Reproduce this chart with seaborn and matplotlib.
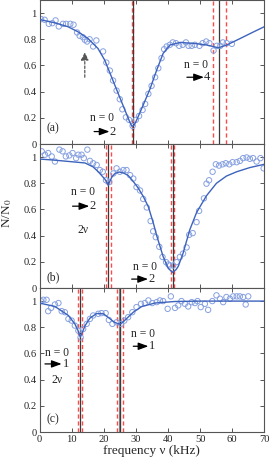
import numpy as np
import pandas as pd
import matplotlib
matplotlib.use("Agg")
import matplotlib.pyplot as plt
import seaborn as sns

# ---------------- data ----------------
# panel (a): measured points
a_freq = [0.5, 1.6, 2.9, 4.0, 5.0, 6.0, 7.3, 8.3, 9.6, 10.6, 11.7, 12.5, 13.5, 14.1, 14.8, 15.6,
          16.7, 17.7, 19.8, 20.8, 21.9, 22.9, 24.0, 25.0, 25.8, 26.9, 27.9, 29.0, 30.0, 31.0,
          32.1, 32.9, 33.9, 34.9, 36.0, 37.0, 38.0, 38.8, 39.6, 40.6, 41.5, 42.5, 43.5, 44.6,
          45.6, 46.4, 47.4, 48.4, 49.8, 50.8, 51.9, 52.9, 54.2, 55.2, 56.3, 57.1, 58.3, 59.9]
a_val = [0.954, 0.949, 0.918, 0.923, 0.944, 0.898, 0.918, 0.918, 0.918, 0.911, 0.852, 0.827,
         0.816, 0.796, 0.783, 0.800, 0.745, 0.791, 0.707, 0.622, 0.561, 0.485, 0.408, 0.342,
         0.265, 0.204, 0.184, 0.138, 0.184, 0.214, 0.260, 0.306, 0.383, 0.444, 0.510, 0.579,
         0.656, 0.724, 0.745, 0.758, 0.776, 0.770, 0.750, 0.758, 0.776, 0.750, 0.750, 0.758,
         0.750, 0.770, 0.783, 0.770, 0.714, 0.750, 0.750, 0.776, 0.770, 0.765]
# panel (a): fitted curve
a_fit_freq = [0, 4.7, 8.85, 12.0, 15.1, 18.2, 20.3, 22.4, 24.5, 26.6, 28.1, 28.8, 29.5, 30.2,
              32.3, 34.4, 36.5, 38.5, 40.6, 43.75, 47.9, 52.1, 55.7, 58.3, 62.5, 66.7, 70]
a_fit_val = [0.951, 0.926, 0.896, 0.857, 0.806, 0.730, 0.641, 0.514, 0.386, 0.259, 0.168,
             0.135, 0.145, 0.180, 0.298, 0.420, 0.565, 0.692, 0.756, 0.776, 0.769, 0.756,
             0.735, 0.756, 0.806, 0.857, 0.896]

# panel (b)
b_freq = [0.7, 1.7, 2.7, 3.8, 4.8, 6.2, 7.2, 8.2, 9.3, 10.3, 11.4, 12.1, 13.1, 13.8, 14.9, 15.7,
          16.7, 17.8, 18.8, 19.7, 20.7, 21.7, 23.0, 24.0, 25.0, 26.1, 27.1, 28.2, 29.2, 30.2,
          31.3, 32.3, 33.4, 34.6, 35.4, 36.2, 37.3, 38.3, 39.4, 40.1, 40.6, 41.6, 42.7, 43.7,
          44.7, 45.8, 46.6, 47.7, 48.9, 49.7, 51.2, 52.0, 52.8, 53.9, 54.9, 55.9, 57.0, 58.0,
          59.1, 60.1, 61.4, 62.4, 63.4, 64.5, 65.5, 66.5, 67.6, 68.8, 69.8]
b_val = [1.044, 1.018, 1.031, 1.005, 0.966, 1.057, 1.044, 1.005, 1.013, 1.031, 0.992, 1.018,
         1.018, 0.992, 1.057, 0.971, 0.953, 0.940, 0.901, 0.888, 0.823, 0.810, 0.875, 0.914,
         0.888, 0.901, 0.901, 0.862, 0.836, 0.771, 0.745, 0.680, 0.615, 0.511, 0.433, 0.388,
         0.315, 0.237, 0.198, 0.180, 0.172, 0.172, 0.198, 0.237, 0.263, 0.310, 0.406, 0.419,
         0.503, 0.589, 0.685, 0.797, 0.823, 0.888, 0.945, 0.935, 0.945, 0.953, 0.945, 0.961,
         0.961, 0.971, 0.992, 0.997, 0.987, 0.992, 0.966, 0.992, 0.914]
b_fit_freq = [0, 4, 8.5, 14.2, 16.7, 18.3, 19.5, 20.4, 21.0, 21.4, 21.9, 22.6, 23.5, 24.8, 26.2,
              27.6, 29.0, 30.7, 32.3, 33.9, 35.4, 36.5, 38.5, 40.1, 41.4, 42.5, 43.2, 44.7,
              46.8, 48.9, 52.0, 55.1, 58.2, 61.4, 65.5, 70]
b_fit_val = [0.985, 0.978, 0.968, 0.955, 0.925, 0.888, 0.855, 0.830, 0.805, 0.785, 0.815, 0.850,
             0.875, 0.886, 0.878, 0.860, 0.820, 0.765, 0.700, 0.620, 0.500, 0.400, 0.240, 0.150,
             0.120, 0.140, 0.165, 0.265, 0.445, 0.576, 0.705, 0.800, 0.855, 0.888, 0.920, 0.945]

# panel (c)
c_freq = [0.4, 1.2, 2.2, 2.7, 3.6, 4.8, 5.9, 6.9, 7.9, 9.0, 10.0, 11.0, 12.1, 12.8, 13.6, 14.7,
          15.7, 16.7, 18.3, 19.3, 20.6, 21.6, 22.7, 24.0, 25.4, 26.4, 27.6, 28.9, 30.2, 31.6,
          32.8, 33.9, 35.1, 36.5, 37.5, 38.5, 39.9, 40.9, 42.2, 43.2, 44.2, 45.3, 46.3, 47.4,
          48.4, 49.2, 50.2, 51.5, 52.5, 53.8, 55.1, 56.2, 57.2, 58.2, 59.3, 60.3, 61.4, 62.4,
          63.4, 64.2, 65.0]
c_val = [1.0, 1.01, 1.01, 0.923, 0.948, 0.974, 0.985, 0.923, 0.915, 0.864, 0.851, 0.813, 0.774,
         0.723, 0.787, 0.826, 0.864, 0.890, 0.903, 0.908, 0.908, 0.856, 0.826, 0.838, 0.826,
         0.851, 0.877, 0.915, 0.954, 0.979, 0.985, 1.005, 0.985, 0.992, 1.005, 1.0, 0.941,
         1.036, 0.948, 0.967, 1.0, 0.979, 0.959, 0.992, 0.985, 1.0, 0.954, 0.979, 0.933, 1.0,
         1.044, 1.018, 0.992, 1.031, 1.018, 1.036, 1.036, 1.036, 1.031, 0.974, 1.036]
c_fit_freq = [0, 4.8, 9.0, 11.0, 12.0, 12.7, 13.4, 14.2, 15.7, 17.8, 19.9, 21.9, 23.2, 24.4,
              25.2, 26.0, 27.1, 29.2, 31.8, 35.9, 42.2, 50.5, 70]
c_fit_val = [0.985, 0.959, 0.890, 0.826, 0.775, 0.725, 0.765, 0.813, 0.870, 0.905, 0.903, 0.866,
             0.840, 0.828, 0.825, 0.840, 0.866, 0.915, 0.958, 0.985, 0.997, 1.0, 1.0]

# vertical reference lines: (solid centre, dashed lower, dashed upper)
a_lines = [(29.0, 28.9, 29.1), (55.9, 53.9, 58.1)]
b_lines = [(21.4, 20.6, 22.2), (41.45, 41.1, 41.8)]
c_lines = [(12.7, 12.1, 13.3), (25.0, 24.0, 26.1)]

y_ticks = [0, 0.2, 0.4, 0.6, 0.8, 1]
y_ticklabels = ["0", "0.2", "0.4", "0.6", "0.8", "1"]
x_ticks = [0, 10, 20, 30, 40, 50, 60, 70]
x_ticklabels = ["0", "10", "20", "30", "40", "50", "60", "70"]

# ---------------- style ----------------
sns.set_style("ticks")
plt.rcParams["font.family"] = ["Liberation Serif", "DejaVu Serif"]
plt.rcParams["mathtext.fontset"] = "stix"

PT_COLOR = "#86a0e0"
LINE_COLOR = "#3d63bd"
SPINE = "#555555"
FS = 7.6

fig = plt.figure(figsize=(2.70, 4.66), dpi=100)
L = 39.5 / 270
W = (264.3 - 39.5) / 270
H = 144 / 466
axes = [fig.add_axes([L, 1 - (i + 1) * 144 / 466, W, H]) for i in range(3)]


def panel(ax, f, v, ff, fv, lines, solid_color="#3a3a3a", solid_lw=0.9):
    for c, lo, hi in lines:
        ax.axvline(lo, color="#ff4a4a", lw=1.0, ls=(0, (3, 2)), zorder=1)
        ax.axvline(hi, color="#ff4a4a", lw=1.0, ls=(0, (3, 2)), zorder=1)
        ax.axvline(c, color=solid_color, lw=solid_lw, zorder=1.5)
    sns.scatterplot(x=f, y=v, ax=ax, marker="o", s=15, facecolor="none",
                    edgecolor=PT_COLOR, linewidth=0.7, zorder=2, legend=False)
    sns.lineplot(x=ff, y=fv, ax=ax, color=LINE_COLOR, lw=1.0, zorder=3,
                 estimator=None, sort=False)
    ax.set_xlim(0, 70)
    ax.set_ylim(0, 1.1)
    ax.set_yticks(y_ticks)
    ax.set_yticklabels(y_ticklabels)
    ax.set_xticks(x_ticks)
    ax.tick_params(direction="in", length=3, width=0.7, top=True, right=True,
                   labelsize=FS, pad=2, color=SPINE)
    for s in ax.spines.values():
        s.set_color(SPINE)
        s.set_linewidth(0.8)
    ax.set_xlabel("")
    ax.set_ylabel("")


def trans_label(ax, x, y, num, ax1, ax2, numx, dy):
    ax.text(x, y, "n = 0", ha="center", va="center", fontsize=FS + 0.8)
    ax.annotate("", xy=(ax2, y - dy), xytext=(ax1, y - dy),
                arrowprops=dict(arrowstyle="-|>,head_length=0.6,head_width=0.22",
                                color="k", lw=0.9, mutation_scale=10,
                                shrinkA=0, shrinkB=0))
    ax.text(numx, y - dy, num, ha="center", va="center", fontsize=FS + 1.4)


ax_a, ax_b, ax_c = axes
panel(ax_a, a_freq, a_val, a_fit_freq, a_fit_val, a_lines)
panel(ax_b, b_freq, b_val, b_fit_freq, b_fit_val, b_lines)
panel(ax_c, c_freq, c_val, c_fit_freq, c_fit_val, c_lines)
# thicker grey centre line at 25 kHz in (c)
ax_c.axvline(c_lines[1][0], color="#8a8a8a", lw=1.6, zorder=1.4)

for ax in (ax_a, ax_b):
    ax.set_xticklabels([])
ax_c.set_xticklabels(x_ticklabels)

# panel labels
ax_a.text(4.2, 0.12, "(a)", ha="center", va="center", fontsize=FS + 0.8)
ax_b.text(4.2, 0.08, "(b)", ha="center", va="center", fontsize=FS + 0.8)
ax_c.text(4.2, 0.10, "(c)", ha="center", va="center", fontsize=FS + 0.8)

# transition labels
trans_label(ax_a, 19.6, 0.20, "2", 17.0, 21.8, 22.6, 0.105)
trans_label(ax_a, 48.7, 0.60, "4", 45.9, 51.2, 52.2, 0.09)
trans_label(ax_b, 13.5, 0.73, "2", 10.3, 15.5, 16.5, 0.105)
ax_b.text(13.6, 0.445, "2ν", ha="center", va="center", fontsize=FS + 0.8)
trans_label(ax_b, 32.8, 0.16, "2", 28.7, 33.8, 34.9, 0.092)
trans_label(ax_c, 5.35, 0.605, "1", 1.7, 6.9, 8.2, 0.085)
ax_c.text(5.4, 0.40, "2ν", ha="center", va="center", fontsize=FS + 0.8)
trans_label(ax_c, 32.3, 0.745, "1", 29.2, 33.9, 34.9, 0.09)

# dashed arrow in (a)
ax_a.annotate("", xy=(14.1, 0.70), xytext=(14.1, 0.51),
              arrowprops=dict(arrowstyle="-|>,head_length=0.5,head_width=0.25",
                              color="#555555", lw=0.9, ls=(0, (2, 1.5)),
                              mutation_scale=9, shrinkA=0, shrinkB=0))

ax_c.set_xlabel("frequency ν (kHz)", fontsize=9.5, labelpad=1)
fig.text(7.5 / 270, 1 - 213 / 466, r"N/N$_0$", rotation=90, ha="center", va="center",
         fontsize=9.5)

fig.savefig("out.png", dpi=100)
